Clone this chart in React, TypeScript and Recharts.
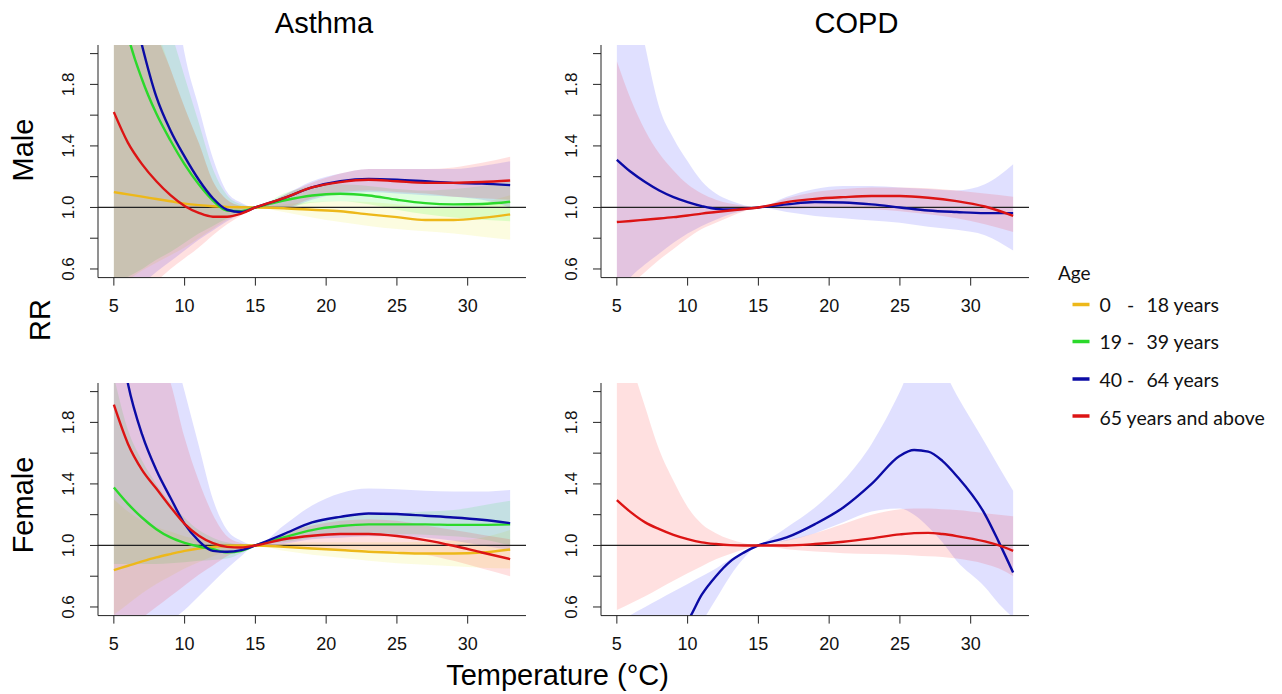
import React from 'react';
import { ComposedChart, Line, Area, XAxis, YAxis, ReferenceLine } from 'recharts';

// ---------- axes / categories ----------
const TEMPS = [5, 6, 7, 8, 9, 10, 11, 12, 13, 14, 15, 17, 19, 21, 23, 25, 27, 29, 31, 33];
const TEMPS_COPD_F = [5, 6, 7, 8, 9, 10, 11, 12, 13, 14, 15, 17, 19, 21, 23, 25, 26, 27, 28, 29, 31, 32, 33];
const X_TICKS = [5, 10, 15, 20, 25, 30];
const Y_TICKS = [0.6, 0.8, 1.0, 1.2, 1.4, 1.6, 1.8, 2.0];
const Y_LABELS = [0.6, 1.0, 1.4, 1.8];
const X_DOMAIN: [number, number] = [3.88, 34.12];
const Y_DOMAIN: [number, number] = [0.544, 2.056];

const DISEASES = ['Asthma', 'COPD'];
const SEXES = ['Male', 'Female'];
const AGE_GROUPS = ['0 - 18 years', '19 - 39 years', '40 - 64 years', '65 years and above'];
const LINE_COLORS = ['#EDB81A', '#2BD92B', '#0B0BA5', '#DC1414'];
const BAND_COLORS = ['#e6e600', '#00ff00', '#0000ff', '#ff0000'];

// ---------- Asthma, Male ----------
const AM_Y_EST = [1.10, 1.085, 1.07, 1.055, 1.04, 1.025, 1.015, 1.008, 1.004, 1.001, 1.0, 0.995, 0.985, 0.975, 0.955, 0.937, 0.918, 0.918, 0.932, 0.955];
const AM_Y_LO = [0.48, 0.53, 0.59, 0.64, 0.69, 0.74, 0.80, 0.86, 0.92, 0.965, 1.0, 0.97, 0.935, 0.905, 0.88, 0.86, 0.845, 0.83, 0.81, 0.79];
const AM_Y_HI = [2.6, 2.4, 2.25, 2.15, 1.9, 1.65, 1.42, 1.17, 1.05, 1.01, 1.0, 1.02, 1.035, 1.04, 1.035, 1.02, 1.0, 1.0, 1.03, 1.08];
const AM_G_EST = [2.6, 2.12, 1.83, 1.61, 1.435, 1.28, 1.15, 1.045, 0.98, 0.976, 1.0, 1.045, 1.078, 1.089, 1.078, 1.05, 1.028, 1.02, 1.022, 1.037];
const AM_G_LO = [0.5, 0.55, 0.6, 0.66, 0.71, 0.77, 0.83, 0.88, 0.93, 0.97, 1.0, 1.0, 1.03, 1.04, 1.02, 0.985, 0.955, 0.935, 0.92, 0.91];
const AM_G_HI = [4.0, 3.3, 2.8, 2.4, 2.15, 1.85, 1.55, 1.25, 1.08, 1.02, 1.0, 1.09, 1.14, 1.15, 1.14, 1.12, 1.11, 1.12, 1.14, 1.17];
const AM_B_EST = [3.0, 2.45, 2.05, 1.72, 1.5, 1.33, 1.18, 1.06, 0.985, 0.97, 1.0, 1.06, 1.13, 1.17, 1.185, 1.18, 1.17, 1.16, 1.155, 1.145];
const AM_B_LO = [0.3, 0.4, 0.5, 0.58, 0.65, 0.72, 0.79, 0.85, 0.91, 0.96, 1.0, 0.99, 1.05, 1.09, 1.1, 1.09, 1.08, 1.07, 1.05, 1.0];
const AM_B_HI = [5.0, 4.2, 3.5, 3.0, 2.6, 2.0, 1.65, 1.32, 1.1, 1.03, 1.0, 1.08, 1.17, 1.22, 1.25, 1.25, 1.25, 1.25, 1.27, 1.3];
const AM_R_EST = [1.62, 1.42, 1.28, 1.17, 1.08, 1.01, 0.965, 0.94, 0.94, 0.96, 1.0, 1.06, 1.13, 1.165, 1.18, 1.17, 1.16, 1.16, 1.165, 1.175];
const AM_R_LO = [0.35, 0.4, 0.45, 0.52, 0.6, 0.67, 0.74, 0.82, 0.89, 0.95, 1.0, 1.0, 1.06, 1.1, 1.11, 1.1, 1.09, 1.07, 1.06, 1.05];
const AM_R_HI = [5.0, 3.5, 2.6, 2.15, 1.9, 1.65, 1.42, 1.17, 1.05, 1.01, 1.0, 1.08, 1.16, 1.22, 1.25, 1.25, 1.25, 1.26, 1.29, 1.33];

// ---------- COPD, Male ----------
const CM_B_EST = [1.31, 1.23, 1.165, 1.11, 1.067, 1.035, 1.009, 0.991, 0.987, 0.991, 1.0, 1.02, 1.035, 1.032, 1.02, 1.0, 0.98, 0.97, 0.963, 0.963];
const CM_B_LO = [0.45, 0.55, 0.63, 0.7, 0.77, 0.83, 0.88, 0.92, 0.955, 0.98, 1.0, 0.97, 0.945, 0.93, 0.915, 0.9, 0.875, 0.855, 0.82, 0.72];
const CM_B_HI = [3.0, 2.5, 2.05, 1.65, 1.45, 1.3, 1.17, 1.09, 1.045, 1.015, 1.0, 1.07, 1.12, 1.14, 1.14, 1.13, 1.12, 1.11, 1.15, 1.28];
const CM_R_EST = [0.905, 0.912, 0.92, 0.928, 0.937, 0.948, 0.96, 0.97, 0.98, 0.99, 1.0, 1.035, 1.056, 1.067, 1.074, 1.074, 1.063, 1.041, 1.006, 0.946];
const CM_R_LO = [0.42, 0.5, 0.58, 0.66, 0.73, 0.8, 0.86, 0.9, 0.94, 0.975, 1.0, 0.99, 0.995, 0.995, 0.99, 0.975, 0.955, 0.93, 0.89, 0.84];
const CM_R_HI = [1.95, 1.7, 1.5, 1.35, 1.24, 1.15, 1.09, 1.05, 1.025, 1.01, 1.0, 1.06, 1.1, 1.12, 1.13, 1.13, 1.125, 1.11, 1.09, 1.07];

// ---------- Asthma, Female ----------
const AF_Y_EST = [0.84, 0.868, 0.896, 0.922, 0.944, 0.965, 0.98, 0.991, 0.998, 1.0, 1.0, 0.991, 0.98, 0.97, 0.959, 0.952, 0.948, 0.948, 0.954, 0.974];
const AF_Y_LO = [0.55, 0.62, 0.69, 0.75, 0.8, 0.85, 0.89, 0.93, 0.96, 0.985, 1.0, 0.965, 0.94, 0.92, 0.9, 0.885, 0.875, 0.865, 0.855, 0.85];
const AF_Y_HI = [1.3, 1.22, 1.16, 1.12, 1.09, 1.06, 1.04, 1.025, 1.012, 1.004, 1.0, 1.015, 1.02, 1.02, 1.02, 1.02, 1.025, 1.03, 1.05, 1.1];
const AF_G_EST = [1.377, 1.27, 1.18, 1.106, 1.052, 1.017, 0.993, 0.976, 0.955, 0.965, 1.0, 1.052, 1.1, 1.126, 1.137, 1.137, 1.137, 1.134, 1.134, 1.137];
const AF_G_LO = [0.88, 0.88, 0.88, 0.88, 0.885, 0.89, 0.9, 0.905, 0.915, 0.95, 1.0, 1.02, 1.05, 1.07, 1.08, 1.075, 1.07, 1.06, 1.04, 1.0];
const AF_G_HI = [2.1, 1.75, 1.55, 1.4, 1.28, 1.18, 1.1, 1.05, 1.02, 1.005, 1.0, 1.08, 1.15, 1.19, 1.2, 1.21, 1.22, 1.23, 1.26, 1.29];
const AF_B_EST = [2.6, 2.05, 1.72, 1.49, 1.31, 1.14, 1.03, 0.965, 0.959, 0.97, 1.0, 1.074, 1.15, 1.186, 1.208, 1.204, 1.193, 1.182, 1.167, 1.145];
const AF_B_LO = [0.3, 0.35, 0.4, 0.45, 0.51, 0.58, 0.67, 0.76, 0.85, 0.93, 1.0, 1.01, 1.04, 1.05, 1.06, 1.06, 1.05, 1.03, 1.0, 0.97];
const AF_B_HI = [3.8, 3.4, 3.0, 2.7, 2.35, 2.0, 1.65, 1.3, 1.1, 1.03, 1.0, 1.13, 1.26, 1.34, 1.37, 1.365, 1.355, 1.35, 1.35, 1.36];
const AF_R_EST = [1.915, 1.66, 1.49, 1.37, 1.25, 1.14, 1.063, 1.015, 0.991, 0.987, 1.0, 1.04, 1.063, 1.074, 1.074, 1.061, 1.035, 0.998, 0.954, 0.911];
const AF_R_LO = [0.4, 0.46, 0.53, 0.6, 0.67, 0.74, 0.81, 0.87, 0.93, 0.97, 1.0, 0.985, 0.98, 0.975, 0.97, 0.96, 0.94, 0.9, 0.85, 0.8];
const AF_R_HI = [3.5, 3.0, 2.6, 2.3, 2.06, 1.7, 1.42, 1.2, 1.06, 1.015, 1.0, 1.08, 1.13, 1.16, 1.17, 1.16, 1.13, 1.1, 1.07, 1.04];

// ---------- COPD, Female ----------
const CF_B_EST = [0.2, 0.25, 0.3, 0.36, 0.43, 0.51, 0.68, 0.8, 0.895, 0.955, 1.0, 1.052, 1.139, 1.247, 1.4, 1.583, 1.62, 1.61, 1.55, 1.453, 1.204, 1.02, 0.824];
const CF_B_LO = [0.05, 0.1, 0.15, 0.2, 0.27, 0.36, 0.5, 0.65, 0.8, 0.92, 1.0, 1.03, 1.08, 1.15, 1.22, 1.24, 1.2, 1.12, 1.02, 0.9, 0.73, 0.62, 0.53];
const CF_B_HI = [0.5, 0.55, 0.6, 0.65, 0.7, 0.75, 0.8, 0.85, 0.91, 0.955, 1.0, 1.117, 1.247, 1.42, 1.66, 2.0, 2.2, 2.25, 2.15, 1.98, 1.67, 1.51, 1.355];
const CF_R_EST = [1.295, 1.215, 1.15, 1.106, 1.069, 1.041, 1.02, 1.009, 1.002, 1.0, 1.0, 1.0, 1.009, 1.024, 1.046, 1.072, 1.08, 1.082, 1.074, 1.061, 1.026, 1.0, 0.965];
const CF_R_LO = [0.58, 0.625, 0.67, 0.72, 0.77, 0.82, 0.865, 0.91, 0.945, 0.975, 1.0, 0.975, 0.96, 0.95, 0.945, 0.94, 0.935, 0.93, 0.925, 0.915, 0.88, 0.85, 0.8];
const CF_R_HI = [2.6, 2.2, 1.9, 1.62, 1.42, 1.25, 1.14, 1.08, 1.04, 1.015, 1.0, 1.035, 1.08, 1.14, 1.2, 1.235, 1.24, 1.24, 1.235, 1.23, 1.21, 1.2, 1.19];

// ---------- layout ----------
const PW = 428;
const PH = 232.6;
const YW = 50;
const XH = 50;
const MT = 10;
const MR = 10;
const FONT = '"Liberation Sans", Arial, Helvetica, sans-serif';

type Series = { key: string; idx: number; est: number[]; lo: number[]; hi: number[] };

const XTick = (props: any) => {
  const { x, y, payload } = props;
  return (
    <text x={x} y={y + 26.5} textAnchor="middle" fontFamily={FONT} fontSize={18} fill="#111">
      {payload.value}
    </text>
  );
};

const YTick = (props: any) => {
  const { x, y, payload } = props;
  const show = Y_LABELS.some((v) => Math.abs(v - payload.value) < 1e-6);
  if (!show) return <g />;
  const bx = x - 16;
  return (
    <text x={bx} y={y} transform={`rotate(-90, ${bx}, ${y})`} textAnchor="middle" fontFamily={FONT} fontSize={17} fill="#111">
      {Number(payload.value).toFixed(1)}
    </text>
  );
};

function Panel({ left, top, temps, series }: { left: number; top: number; temps: number[]; series: Series[] }) {
  const data = temps.map((t, i) => {
    const row: any = { t };
    series.forEach((s) => {
      row[s.key] = s.est[i];
      row[s.key + 'Band'] = [s.lo[i], s.hi[i]];
    });
    return row;
  });
  return (
    <div style={{ position: 'absolute', left: left - YW, top: top - MT }}>
      <ComposedChart
        width={YW + PW + MR}
        height={MT + PH + XH}
        data={data}
        margin={{ top: MT, right: MR, bottom: 0, left: 0 }}
      >
        <XAxis
          dataKey="t"
          type="number"
          domain={X_DOMAIN}
          ticks={X_TICKS}
          allowDataOverflow
          interval={0}
          height={XH}
          tickSize={8}
          tickMargin={0}
          stroke="#222"
          tick={<XTick />}
        />
        <YAxis
          type="number"
          domain={Y_DOMAIN}
          ticks={Y_TICKS}
          allowDataOverflow
          interval={0}
          width={YW}
          tickSize={8}
          tickMargin={0}
          stroke="#222"
          tick={<YTick />}
        />
        {series.map((s) => (
          <Area
            key={s.key + 'Band'}
            dataKey={s.key + 'Band'}
            type="monotone"
            stroke="none"
            fill={BAND_COLORS[s.idx]}
            fillOpacity={0.12}
            isAnimationActive={false}
            dot={false}
            activeDot={false}
          />
        ))}
        <ReferenceLine y={1} stroke="#222" strokeWidth={1.2} />
        {series.map((s) => (
          <Line
            key={s.key}
            dataKey={s.key}
            type="monotone"
            stroke={LINE_COLORS[s.idx]}
            strokeWidth={2.4}
            dot={false}
            activeDot={false}
            isAnimationActive={false}
          />
        ))}
      </ComposedChart>
    </div>
  );
}

const PANELS = [
  {
    left: 97.7, top: 44.5, temps: TEMPS,
    series: [
      { key: 'y', idx: 0, est: AM_Y_EST, lo: AM_Y_LO, hi: AM_Y_HI },
      { key: 'g', idx: 1, est: AM_G_EST, lo: AM_G_LO, hi: AM_G_HI },
      { key: 'b', idx: 2, est: AM_B_EST, lo: AM_B_LO, hi: AM_B_HI },
      { key: 'r', idx: 3, est: AM_R_EST, lo: AM_R_LO, hi: AM_R_HI },
    ],
  },
  {
    left: 600.7, top: 44.5, temps: TEMPS,
    series: [
      { key: 'b', idx: 2, est: CM_B_EST, lo: CM_B_LO, hi: CM_B_HI },
      { key: 'r', idx: 3, est: CM_R_EST, lo: CM_R_LO, hi: CM_R_HI },
    ],
  },
  {
    left: 97.7, top: 382.5, temps: TEMPS,
    series: [
      { key: 'y', idx: 0, est: AF_Y_EST, lo: AF_Y_LO, hi: AF_Y_HI },
      { key: 'g', idx: 1, est: AF_G_EST, lo: AF_G_LO, hi: AF_G_HI },
      { key: 'b', idx: 2, est: AF_B_EST, lo: AF_B_LO, hi: AF_B_HI },
      { key: 'r', idx: 3, est: AF_R_EST, lo: AF_R_LO, hi: AF_R_HI },
    ],
  },
  {
    left: 600.7, top: 382.5, temps: TEMPS_COPD_F,
    series: [
      { key: 'b', idx: 2, est: CF_B_EST, lo: CF_B_LO, hi: CF_B_HI },
      { key: 'r', idx: 3, est: CF_R_EST, lo: CF_R_LO, hi: CF_R_HI },
    ],
  },
];

const LEGEND_LINE_Y = [304.5, 341.5, 379, 416];
const LEGEND_TEXT_Y = [311.5, 348.5, 386.5, 424.5];
const LEGEND_FONT = 'Lato, "Open Sans", sans-serif';

function Labels() {
  return (
    <svg width={1282} height={694} style={{ position: 'absolute', left: 0, top: 0, pointerEvents: 'none' }}>
      <text x={324} y={33.3} textAnchor="middle" fontFamily={FONT} fontSize={29} fill="#000">{DISEASES[0]}</text>
      <text x={856.5} y={33.3} textAnchor="middle" fontFamily={FONT} fontSize={29} fill="#000">{DISEASES[1]}</text>
      <text x={33} y={150} transform="rotate(-90, 33, 150)" textAnchor="middle" fontFamily={FONT} fontSize={29} fill="#000">{SEXES[0]}</text>
      <text x={50} y={320} transform="rotate(-90, 50, 320)" textAnchor="middle" fontFamily={FONT} fontSize={29} fill="#000">RR</text>
      <text x={33} y={505} transform="rotate(-90, 33, 505)" textAnchor="middle" fontFamily={FONT} fontSize={29} fill="#000">{SEXES[1]}</text>
      <text x={557.5} y={685} textAnchor="middle" fontFamily={FONT} fontSize={29} fill="#000">Temperature (°C)</text>
      <text x={1058} y={280} fontFamily={LEGEND_FONT} fontSize={19} fill="#111">Age</text>
      {AGE_GROUPS.map((g, i) => {
        const parts = g.split(' - ');
        return (
          <g key={g}>
            <line x1={1072.5} x2={1089.5} y1={LEGEND_LINE_Y[i]} y2={LEGEND_LINE_Y[i]} stroke={LINE_COLORS[i]} strokeWidth={3.5} />
            {parts.length === 2 ? (
              <>
                <text x={1099.5} y={LEGEND_TEXT_Y[i]} fontFamily={LEGEND_FONT} fontSize={19.5} fill="#111">{parts[0]}</text>
                <text x={1127} y={LEGEND_TEXT_Y[i]} fontFamily={LEGEND_FONT} fontSize={19.5} fill="#111">-</text>
                <text x={1146.5} y={LEGEND_TEXT_Y[i]} fontFamily={LEGEND_FONT} fontSize={19.5} fill="#111">{parts[1]}</text>
              </>
            ) : (
              <text x={1099.5} y={LEGEND_TEXT_Y[i]} fontFamily={LEGEND_FONT} fontSize={19.5} fill="#111">{g}</text>
            )}
          </g>
        );
      })}
    </svg>
  );
}

export default function App() {
  return (
    <div style={{ position: 'absolute', left: 0, top: 0, width: 1282, height: 694, background: '#fff', overflow: 'hidden' }}>
      {PANELS.map((p, i) => (
        <Panel key={i} left={p.left} top={p.top} temps={p.temps} series={p.series} />
      ))}
      <Labels />
    </div>
  );
}
